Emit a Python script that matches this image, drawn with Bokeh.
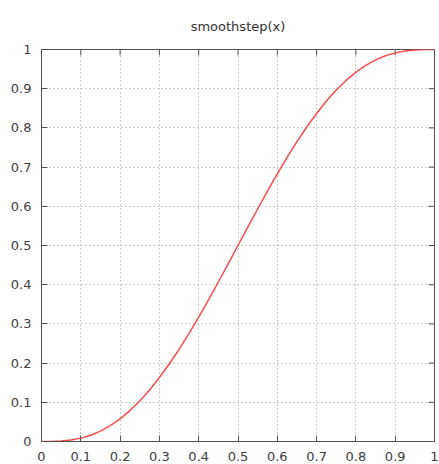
from bokeh.plotting import figure
from bokeh.models import LinearAxis, Range1d, FixedTicker, Grid
from bokeh.embed import file_html
from bokeh.resources import INLINE

# values
x_vals = [0.0, 0.025, 0.05, 0.075, 0.1, 0.125, 0.15, 0.175, 0.2, 0.225, 0.25,
          0.275, 0.3, 0.325, 0.35, 0.375, 0.4, 0.425, 0.45, 0.475, 0.5,
          0.525, 0.55, 0.575, 0.6, 0.625, 0.65, 0.675, 0.7, 0.725, 0.75,
          0.775, 0.8, 0.825, 0.85, 0.875, 0.9, 0.925, 0.95, 0.975, 1.0]
y_vals = [0.0, 0.0002, 0.0012, 0.0038, 0.0086, 0.016, 0.0266, 0.0405, 0.0579, 0.0789, 0.1035,
          0.1316, 0.1631, 0.1977, 0.2352, 0.2752, 0.3174, 0.3615, 0.4069, 0.4532, 0.5,
          0.5468, 0.5931, 0.6385, 0.6826, 0.7248, 0.7648, 0.8023, 0.8369, 0.8684, 0.8965,
          0.9211, 0.9421, 0.9595, 0.9734, 0.984, 0.9914, 0.9962, 0.9988, 0.9998, 1.0]
ticks = [0, 0.1, 0.2, 0.3, 0.4, 0.5, 0.6, 0.7, 0.8, 0.9, 1]
tick_labels = {0: "0", 0.1: "0.1", 0.2: "0.2", 0.3: "0.3", 0.4: "0.4", 0.5: "0.5",
               0.6: "0.6", 0.7: "0.7", 0.8: "0.8", 0.9: "0.9", 1: "1"}
title_text = "smoothstep(x)"

FONT = "DejaVu Sans"
AX = "#505050"
TICK_LEN = 0.015  # inward tick length for the top/right edges, in data units

p = figure(width=439, height=464, output_backend="svg", toolbar_location=None,
           x_range=Range1d(0, 1), y_range=Range1d(0, 1),
           x_axis_type=None, y_axis_type=None,
           min_border_left=41, min_border_right=5, min_border_top=48, min_border_bottom=23)
p.title.text = title_text
p.title.align = "center"
p.title.text_font = FONT
p.title.text_font_size = "13px"
p.title.text_font_style = "normal"
p.title.text_color = "#333333"
p.title.standoff = 32
p.outline_line_color = AX
p.outline_line_width = 1
p.background_fill_color = "white"
p.border_fill_color = "white"

def mk_axis():
    ax = LinearAxis(ticker=FixedTicker(ticks=ticks))
    ax.major_label_overrides = tick_labels
    ax.axis_line_color = AX
    ax.major_tick_line_color = AX
    ax.major_tick_in = 6
    ax.major_tick_out = 0
    ax.minor_tick_line_color = None
    ax.major_label_text_font = FONT
    ax.major_label_text_font_size = "13px"
    ax.major_label_text_color = "#404040"
    return ax

xb = mk_axis(); xb.major_label_standoff = 10
yl = mk_axis(); yl.major_label_standoff = 10
p.add_layout(xb, "below")
p.add_layout(yl, "left")

for dim in (0, 1):
    g = Grid(dimension=dim, ticker=FixedTicker(ticks=ticks[1:-1]))
    g.grid_line_color = "#999999"
    g.grid_line_dash = "1 3"
    g.grid_line_width = 1
    p.add_layout(g)

# inward ticks on the top and right edges
n = len(ticks)
p.segment(x0=ticks, y0=[1] * n, x1=ticks, y1=[1 - TICK_LEN] * n, line_color=AX, line_width=1)
p.segment(x0=[1] * n, y0=ticks, x1=[1 - TICK_LEN] * n, y1=ticks, line_color=AX, line_width=1)

p.line(x_vals, y_vals, line_color="#ff4a4a", line_width=1.5)

open("out.html", "w").write(file_html(p, INLINE))
